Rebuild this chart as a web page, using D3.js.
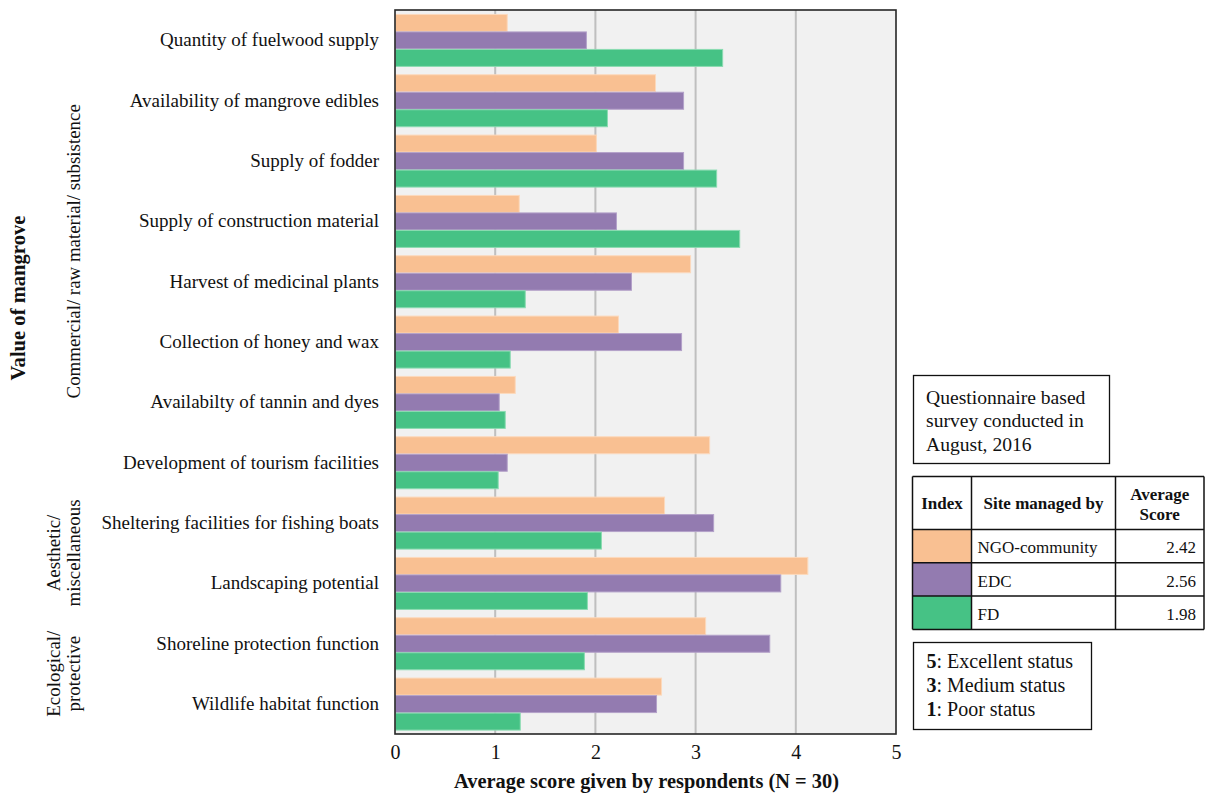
<!DOCTYPE html>
<html>
<head>
<meta charset="utf-8">
<script src="https://cdn.jsdelivr.net/npm/d3@7/dist/d3.min.js"></script>
</head>
<body style="margin:0">
<svg id="chart" width="1207" height="793" font-family="Liberation Serif" style="font-family: 'Liberation Serif'; display: block"></svg>
<script>
// Mangrove ecosystem values, scored by respondents per management regime
const categories = [
  "Quantity of fuelwood supply",
  "Availability of mangrove edibles",
  "Supply of fodder",
  "Supply of construction material",
  "Harvest of medicinal plants",
  "Collection of honey and wax",
  "Availabilty of tannin and dyes",
  "Development of tourism facilities",
  "Sheltering facilities for fishing boats",
  "Landscaping potential",
  "Shoreline protection function",
  "Wildlife habitat function"
];
const seriesNames = ["NGO-community", "EDC", "FD"];
const ngoValues = [1.12, 2.60, 2.01, 1.24, 2.95, 2.23, 1.20, 3.14, 2.69, 4.12, 3.10, 2.66];
const edcValues = [1.91, 2.88, 2.88, 2.21, 2.36, 2.86, 1.04, 1.12, 3.18, 3.85, 3.74, 2.61];
const fdValues  = [3.27, 2.12, 3.21, 3.44, 1.30, 1.15, 1.10, 1.03, 2.06, 1.92, 1.89, 1.25];
const averageScores = ["2.42", "2.56", "1.98"];
const xTicks = [0, 1, 2, 3, 4, 5];
const groupLabels = [
  { lines: ["Commercial/ raw material/ subsistence"], from: 0, to: 7 },
  { lines: ["Aesthetic/", "miscellaneous"], from: 8, to: 9 },
  { lines: ["Ecological/", "protective"], from: 10, to: 11 }
];
const statusKey = [["5", ": Excellent status"], ["3", ": Medium status"], ["1", ": Poor status"]];
const noteLines = ["Questionnaire based", "survey conducted in", "August, 2016"];

const colors = ["#F9C092", "#937BB0", "#46C285"];
const strokes = ["#FCD9BC", "#B3A1C9", "#8ADBB1"];
const FONT = "Liberation Serif";

const svg = d3.select("#chart");
const plot = { left: 395, right: 896, top: 10, bottom: 734 };

const x = d3.scaleLinear().domain([0, 5]).range([plot.left, plot.right]);
const y = d3.scaleBand().domain(categories).range([plot.top, plot.bottom])
  .paddingInner(0.13).paddingOuter(0.065);
const ySub = d3.scaleBand().domain(seriesNames).range([0, y.bandwidth()]);
const color = d3.scaleOrdinal().domain(seriesNames).range(colors);
const strokeColor = d3.scaleOrdinal().domain(seriesNames).range(strokes);

// Plot background
svg.append("rect")
  .attr("x", plot.left).attr("y", plot.top)
  .attr("width", plot.right - plot.left).attr("height", plot.bottom - plot.top)
  .attr("fill", "#F1F1F1");

// Vertical gridlines
svg.append("g").selectAll("line")
  .data(xTicks.filter(d => d > 0 && d < 5))
  .join("line")
  .attr("x1", d => x(d)).attr("x2", d => x(d))
  .attr("y1", plot.top).attr("y2", plot.bottom)
  .attr("stroke", "#BFBFBF").attr("stroke-width", 2);

// Bars
const rows = categories.map((c, i) => ({
  category: c,
  values: [ngoValues[i], edcValues[i], fdValues[i]]
}));
const groups = svg.append("g").selectAll("g")
  .data(rows)
  .join("g")
  .attr("transform", d => `translate(0,${y(d.category)})`);
groups.selectAll("rect")
  .data(d => d.values.map((v, k) => ({ name: seriesNames[k], value: v })))
  .join("rect")
  .attr("x", x(0) + 0.5)
  .attr("y", d => ySub(d.name) + 0.5)
  .attr("width", d => x(d.value) - x(0) - 0.5)
  .attr("height", ySub.bandwidth() - 0.5)
  .attr("fill", d => color(d.name))
  .attr("stroke", d => strokeColor(d.name))
  .attr("stroke-width", 1);

// Plot frame
svg.append("rect")
  .attr("x", plot.left).attr("y", plot.top)
  .attr("width", plot.right - plot.left).attr("height", plot.bottom - plot.top)
  .attr("fill", "none").attr("stroke", "#262626").attr("stroke-width", 1.6);

// X axis
const xAxis = svg.append("g")
  .attr("transform", `translate(0,${plot.bottom})`)
  .call(d3.axisBottom(x).tickValues(xTicks).tickFormat(d3.format("d")).tickSize(0).tickPadding(11));
xAxis.select(".domain").remove();
xAxis.selectAll("text")
  .attr("font-size", 20).attr("fill", "#111");

svg.append("text")
  .attr("x", (plot.left + plot.right) / 2 + 1).attr("y", 788)
  .attr("text-anchor", "middle")
  .attr("font-size", 20.4).attr("font-weight", "bold").attr("fill", "#111")
  .text("Average score given by respondents (N = 30)");

// Category labels
const yAxis = svg.append("g")
  .attr("transform", `translate(${plot.left},0)`)
  .call(d3.axisLeft(y).tickSize(0).tickPadding(16));
yAxis.select(".domain").remove();
yAxis.selectAll("text")
  .attr("font-size", 19).attr("fill", "#111");

// Value-type group labels (rotated)
groupLabels.forEach(g => {
  const cy = (y(categories[g.from]) + y(categories[g.to]) + y.bandwidth()) / 2;
  const n = g.lines.length;
  const baseX = n === 1 ? 80 : 60;
  const t = svg.append("text")
    .attr("transform", `translate(${baseX},${cy}) rotate(-90)`)
    .attr("text-anchor", "middle")
    .attr("font-size", 18.9).attr("fill", "#111");
  g.lines.forEach((line, i) => {
    t.append("tspan").attr("x", 0).attr("dy", i === 0 ? 0 : 20).text(line);
  });
});

svg.append("text")
  .attr("transform", `translate(25,298) rotate(-90)`)
  .attr("text-anchor", "middle")
  .attr("font-size", 20.6).attr("font-weight", "bold").attr("fill", "#111")
  .text("Value of mangrove");

// Survey note box
const note = svg.append("g");
note.append("rect")
  .attr("x", 913.5).attr("y", 375.5).attr("width", 196).attr("height", 88)
  .attr("fill", "#fff").attr("stroke", "#111").attr("stroke-width", 1.3);
note.selectAll("text")
  .data(noteLines)
  .join("text")
  .attr("x", 926).attr("y", (d, i) => 403.5 + i * 23.6)
  .attr("font-size", 19.6).attr("fill", "#111")
  .text(d => d);

// Legend table
const tbl = { x0: 912.5, x1: 971.5, x2: 1115.5, x3: 1204, y0: 476.5, yh: 529.5, row: 33.3 };
const table = svg.append("g");
seriesNames.forEach((name, i) => {
  const ry = tbl.yh + i * tbl.row;
  table.append("rect")
    .attr("x", tbl.x0).attr("y", ry).attr("width", tbl.x1 - tbl.x0).attr("height", tbl.row)
    .attr("fill", color(name));
  table.append("text")
    .attr("x", tbl.x1 + 6).attr("y", ry + 23.8)
    .attr("font-size", 17).attr("fill", "#111").text(name);
  table.append("text")
    .attr("x", tbl.x3 - 8).attr("y", ry + 23.8)
    .attr("text-anchor", "end")
    .attr("font-size", 17).attr("fill", "#111").text(averageScores[i]);
});
const tblBottom = tbl.yh + seriesNames.length * tbl.row;
// Grid lines of the table
[tbl.x0, tbl.x1, tbl.x2, tbl.x3].forEach(xx => {
  table.append("line").attr("x1", xx).attr("x2", xx).attr("y1", tbl.y0).attr("y2", tblBottom)
    .attr("stroke", "#111").attr("stroke-width", 1.5);
});
[tbl.y0, tbl.yh, tbl.yh + tbl.row, tbl.yh + 2 * tbl.row, tblBottom].forEach(yy => {
  table.append("line").attr("x1", tbl.x0).attr("x2", tbl.x3).attr("y1", yy).attr("y2", yy)
    .attr("stroke", "#111").attr("stroke-width", 1.5);
});
table.append("text").attr("x", (tbl.x0 + tbl.x1) / 2).attr("y", 509)
  .attr("text-anchor", "middle").attr("font-size", 17).attr("font-weight", "bold").attr("fill", "#111")
  .text("Index");
table.append("text").attr("x", (tbl.x1 + tbl.x2) / 2).attr("y", 509)
  .attr("text-anchor", "middle").attr("font-size", 17).attr("font-weight", "bold").attr("fill", "#111")
  .text("Site managed by");
const avgHead = table.append("text").attr("text-anchor", "middle")
  .attr("font-size", 17).attr("font-weight", "bold").attr("fill", "#111");
avgHead.append("tspan").attr("x", (tbl.x2 + tbl.x3) / 2).attr("y", 499.5).text("Average");
avgHead.append("tspan").attr("x", (tbl.x2 + tbl.x3) / 2).attr("y", 520).text("Score");

// Status key box
const key = svg.append("g");
key.append("rect")
  .attr("x", 913.5).attr("y", 642.5).attr("width", 178).attr("height", 87)
  .attr("fill", "#fff").attr("stroke", "#111").attr("stroke-width", 1.3);
const keyText = key.selectAll("text")
  .data(statusKey)
  .join("text")
  .attr("x", 926.5).attr("y", (d, i) => 667.5 + i * 24)
  .attr("font-size", 20).attr("fill", "#111");
keyText.append("tspan").attr("font-weight", "bold").text(d => d[0]);
keyText.append("tspan").text(d => d[1]);

// Serif typeface for every label
svg.selectAll("g").attr("font-family", null);
svg.selectAll("text").attr("font-family", FONT).style("font-family", FONT);
</script>
</body>
</html>
